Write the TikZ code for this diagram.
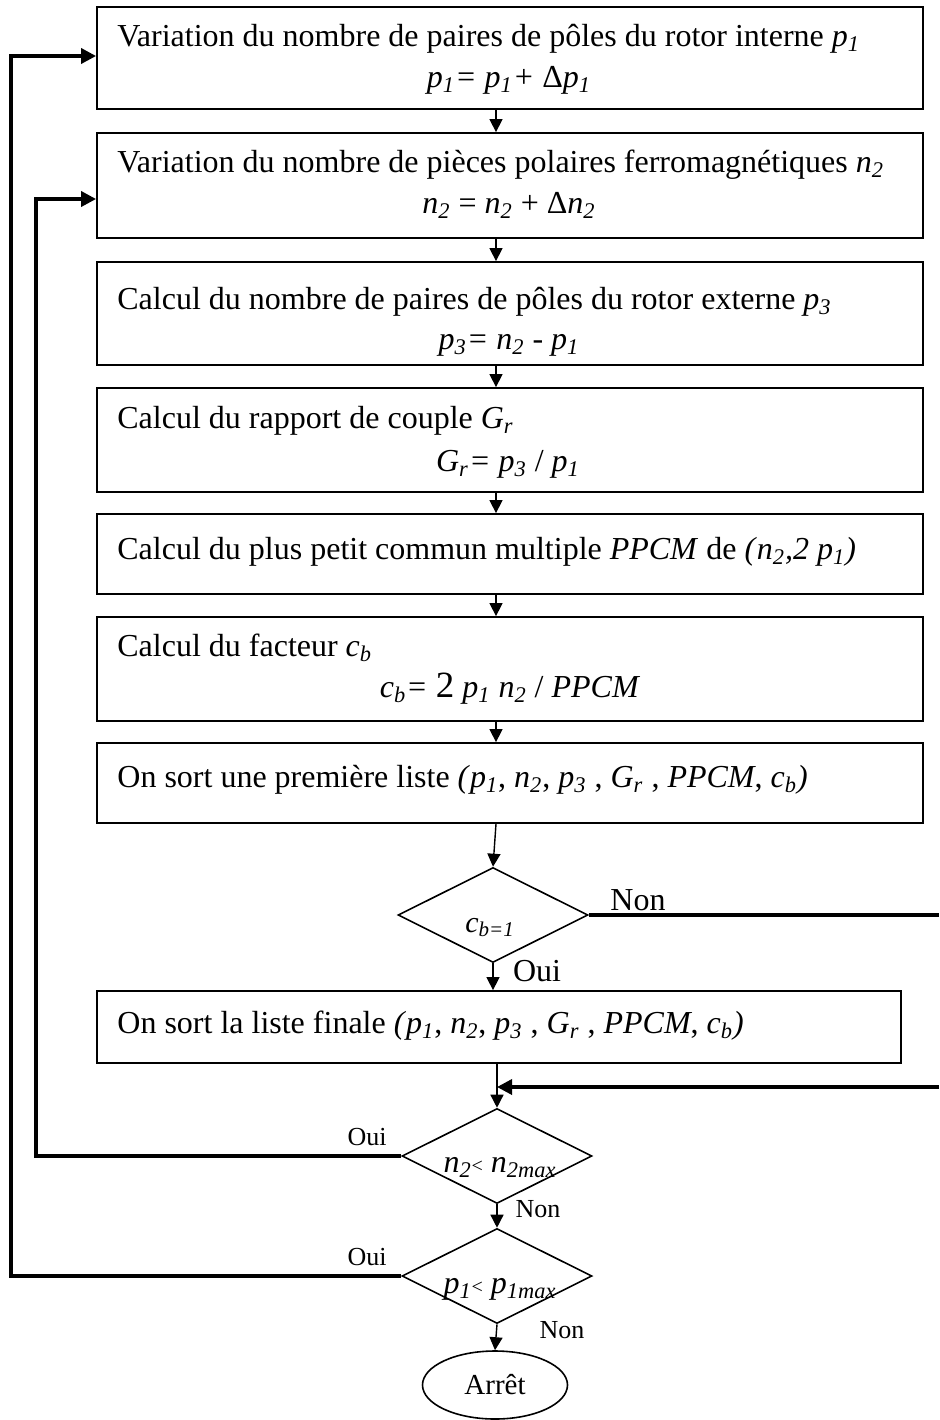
\documentclass[tikz,border=0pt]{standalone}
\usepackage{fontspec}
\setmainfont{Liberation Serif}
\usetikzlibrary{arrows.meta,shapes.geometric}
\newcommand{\vs}[2]{\textit{#1}\textsubscript{\textit{#2}}}
\begin{document}
\begin{tikzpicture}[x=0.5pt,y=-0.5pt,
  box/.style={draw,line width=0.9pt,inner sep=0pt,minimum width=413pt},
  dia/.style={draw,diamond,line width=0.8pt,inner sep=0pt,minimum width=95pt,minimum height=47.5pt},
  txt/.style={inner sep=0pt,font=\fontsize{16}{18}\selectfont},
  ltxt/.style={txt,anchor=base west},
  ctxt/.style={txt,anchor=base},
  small/.style={inner sep=0pt,anchor=base,font=\fontsize{13}{15}\selectfont},
  arr/.style={-{Triangle[length=6.5pt,width=6.5pt]},line width=0.7pt},
  thickarr/.style={-{Triangle[length=7.5pt,width=7.5pt]},line width=1.7pt,line join=miter},
  thickline/.style={line width=1.7pt,line join=miter}]
\useasboundingbox (0,0) rectangle (939,1420);

% boxes
\node[box,minimum height=51pt] (b1) at (510,58) {};
\node[box,minimum height=52.5pt] (b2) at (510,185.5) {};
\node[box,minimum height=51.5pt] (b3) at (510,313.5) {};
\node[box,minimum height=52pt] (b4) at (510,440) {};
\node[box,minimum height=40pt] (b5) at (510,554) {};
\node[box,minimum height=52pt] (b6) at (510,669) {};
\node[box,minimum height=40pt] (b7) at (510,783) {};
\node[box,minimum width=402pt,minimum height=36pt] (b8) at (499,1027) {};

% box texts
\node[ltxt] (t1a) at (117,46) {Variation du nombre de paires de pôles du rotor interne \vs{p}{1}};
\node[ctxt] (t1b) at (509,87) {\vs{p}{1}\textit{= }\vs{p}{1}\textit{+ }Δ\vs{p}{1}};
\node[ltxt] (t2a) at (117,172) {Variation du nombre de pièces polaires ferromagnétiques \vs{n}{2}};
\node[ctxt] (t2b) at (509,213) {\vs{n}{2} = \vs{n}{2} + Δ\vs{n}{2}};
\node[ltxt] (t3a) at (117,309) {Calcul du nombre de paires de pôles du rotor externe \vs{p}{3}};
\node[ctxt] (t3b) at (509,349) {\vs{p}{3}\textit{= }\vs{n}{2} - \vs{p}{1}};
\node[ltxt] (t4a) at (117,428) {Calcul du rapport de couple \vs{G}{r}};
\node[ctxt] (t4b) at (508,471) {\vs{G}{r}\textit{= }\vs{p}{3} / \vs{p}{1}};
\node[ltxt] (t5) at (117,559) {Calcul du plus petit commun multiple \textit{PPCM} de \textit{(}\vs{n}{2}\textit{,2 }\vs{p}{1}\textit{)}};
\node[ltxt] (t6a) at (117,656) {Calcul du facteur \vs{c}{b}};
\node[ctxt] (t6b) at (510,697) {\vs{c}{b}\textit{= }{\fontsize{18.5}{20}\selectfont 2} \vs{p}{1} \vs{n}{2} / \textit{PPCM}};
\node[ltxt] (t7) at (117,787) {On sort une première liste \textit{(}\vs{p}{1}, \vs{n}{2}, \vs{p}{3} , \vs{G}{r} , \textit{PPCM}, \vs{c}{b}\textit{)}};
\node[ltxt] (t8) at (117,1033) {On sort la liste finale \textit{(}\vs{p}{1}, \vs{n}{2}, \vs{p}{3} , \vs{G}{r} , \textit{PPCM}, \vs{c}{b}\textit{)}};

% decisions
\node[dia] (d1) at (493,915) {};
\node[dia] (d2) at (497,1156) {};
\node[dia] (d3) at (497,1276) {};
\node[draw,ellipse,line width=0.8pt,inner sep=0pt,minimum width=72.5pt,minimum height=34pt,
      font=\fontsize{14.5}{16}\selectfont] (end) at (495,1385) {Arrêt};

\node[ctxt,font=\fontsize{15}{17}\selectfont] (q1) at (490,932) {\textit{c}\textsubscript{\textit{b=1}}};
\node[ctxt,font=\fontsize{16}{17}\selectfont] (q2) at (500,1172) {\vs{n}{2}{\fontsize{10}{12}\selectfont<} \vs{n}{2max}};
\node[ctxt,font=\fontsize{16}{17}\selectfont] (q3) at (500,1293) {\vs{p}{1}{\fontsize{10}{12}\selectfont<} \vs{p}{1max}};

% labels
\node[ctxt] (lnon1) at (638,910) {Non};
\node[ctxt] (loui1) at (537,981) {Oui};
\node[small] (loui2) at (367,1145) {Oui};
\node[small] (lnon2) at (538,1217) {Non};
\node[small] (loui3) at (367,1265) {Oui};
\node[small] (lnon3) at (562,1338) {Non};

% connectors
\coordinate (cx) at (496,0);
\draw[arr] (b1.south -| cx) -- (b2.north -| cx);
\draw[arr] (b2.south -| cx) -- (b3.north -| cx);
\draw[arr] (b3.south -| cx) -- (b4.north -| cx);
\draw[arr] (b4.south -| cx) -- (b5.north -| cx);
\draw[arr] (b5.south -| cx) -- (b6.north -| cx);
\draw[arr] (b6.south -| cx) -- (b7.north -| cx);
\draw[arr] (b7.south -| cx) -- (d1.north);
\draw[arr] (d1.south) -- (d1.south |- b8.north);
\draw[arr] (b8.south -| d2.north) -- (d2.north);
\draw[arr] (d2.south) -- (d3.north);
\draw[arr] (d3.south) -- (end.north);

\coordinate (r1) at (939,915);
\coordinate (r2) at (939,1087);
\draw[thickline] (d1.east) -- (r1);
\draw[thickarr] (r2) -- (r2 -| d2.north);

\coordinate (j2) at (36,199);
\coordinate (j1) at (11,56);
\draw[thickarr] (d2.west) -- (d2.west -| j2) -- (j2) -- (j2 -| b2.west);
\draw[thickarr] (d3.west) -- (d3.west -| j1) -- (j1) -- (j1 -| b1.west);
\end{tikzpicture}
\end{document}
